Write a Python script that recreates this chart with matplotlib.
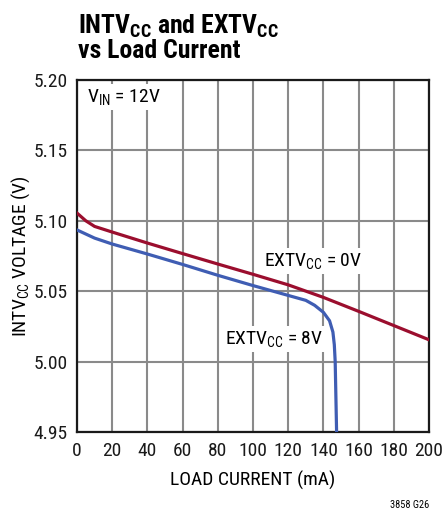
import matplotlib
matplotlib.use("Agg")
import matplotlib.pyplot as plt
from matplotlib import font_manager

names = set(f.name for f in font_manager.fontManager.ttflist)
fam = 'Roboto'
for cand in ['Liberation Sans Narrow', 'Roboto Condensed', 'Arial Narrow']:
    if cand in names:
        fam = cand
        break
plt.rcParams['font.family'] = [fam, 'DejaVu Sans']
plt.rcParams['mathtext.default'] = 'regular'

# EXTVcc = 0V (red)
load_0v = [0, 5, 10, 20, 40, 60, 80, 100, 120, 140, 160, 180, 200]
vcc_0v = [5.1055, 5.100, 5.096, 5.092, 5.0842, 5.0767, 5.0693, 5.062, 5.0545,
          5.0456, 5.0357, 5.0256, 5.0155]

# EXTVcc = 8V (blue)
load_8v = [0, 10, 20, 40, 60, 80, 100, 120, 130, 135, 140, 143.5, 145.4,
           146.2, 146.7, 147.1, 147.5]
vcc_8v = [5.0935, 5.0877, 5.0835, 5.0764, 5.069, 5.0613, 5.054, 5.047, 5.0435,
          5.040, 5.035, 5.029, 5.021, 5.012, 5.00, 4.975, 4.95]

xticks = list(range(0, 201, 20))
yticks = [4.95, 5.00, 5.05, 5.10, 5.15, 5.20]

fig = plt.figure(figsize=(4.43, 5.17), dpi=100)
ax = fig.add_axes([0.1738, 0.1644, 0.7946, 0.6809])

ax.plot(load_0v, vcc_0v, color='#9b0e2e', lw=2.3, zorder=3)
ax.plot(load_8v, vcc_8v, color='#3f5db3', lw=2.3, zorder=3)

ax.set_xlim(0, 200)
ax.set_ylim(4.95, 5.20)
ax.set_xticks(xticks)
ax.set_yticks(yticks)
ax.set_yticklabels(['%.2f' % v for v in yticks])
ax.grid(True, color='#8a8a8a', lw=1.5)
ax.tick_params(length=0, labelsize=14, pad=7, colors='#1a1a1a')
for s in ax.spines.values():
    s.set_linewidth(1.6)
    s.set_color('#1a1a1a')

box = dict(facecolor='white', edgecolor='none', pad=2)
ax.text(5.5, 5.188, r'V$_{IN}$ = 12V', fontsize=14, va='center', ha='left', bbox=box, zorder=4)
ax.text(106.5, 5.0713, r'EXTV$_{CC}$ = 0V', fontsize=14, va='center', ha='left', bbox=box, zorder=4)
ax.text(84, 5.016, r'EXTV$_{CC}$ = 8V', fontsize=14, va='center', ha='left', bbox=box, zorder=4)

ax.set_xlabel('LOAD CURRENT (mA)', fontsize=14, labelpad=8)
ax.set_ylabel(r'INTV$_{CC}$ VOLTAGE (V)', fontsize=14, labelpad=1)

fig.text(0.176, 0.976, r'INTV$_{CC}$ and EXTV$_{CC}$', fontsize=18.5, fontweight='bold',
         va='top', ha='left')
fig.text(0.176, 0.924, 'vs Load Current', fontsize=18.5, fontweight='bold',
         va='top', ha='left')
fig.text(0.968, 0.014, '3858 G26', fontsize=7.5, ha='right', va='bottom')

fig.savefig('out.png', dpi=100)
